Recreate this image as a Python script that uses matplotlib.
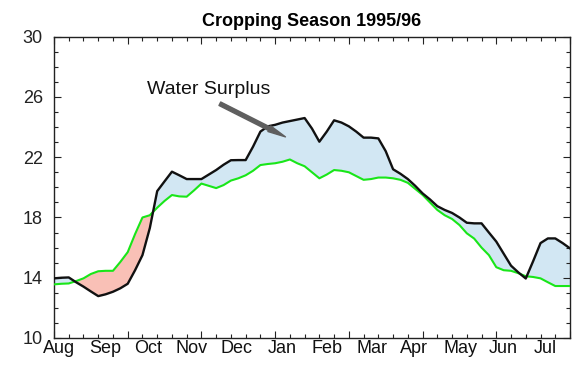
import numpy as np
import matplotlib
matplotlib.use("Agg")
import matplotlib.pyplot as plt
import matplotlib.ticker as ticker

plt.rcParams["font.family"] = ["Liberation Sans", "DejaVu Sans"]

# -----------------------------------------------------------------------
# Data: half-dekad steps from the start of August (x in dekads)
# -----------------------------------------------------------------------

dekad = np.arange(0, 35.5, 0.5)

supply = [
    13.96, 14.00, 14.02, 13.70, 13.41, 13.09, 12.78, 12.90, 13.07, 13.30,
    13.60, 14.50, 15.50, 17.30, 19.75, 20.40, 21.04, 20.80, 20.55, 20.55,
    20.55, 20.85, 21.15, 21.50, 21.80, 21.81, 21.81, 22.70, 23.70, 24.05,
    24.15, 24.30, 24.40, 24.50, 24.60, 23.90, 23.03, 23.70, 24.45, 24.30,
    24.05, 23.70, 23.30, 23.30, 23.25, 22.40, 21.20, 20.90, 20.55, 20.10,
    19.60, 19.20, 18.75, 18.50, 18.30, 18.00, 17.65, 17.61, 17.61, 17.00,
    16.40, 15.60, 14.80, 14.35, 13.95, 15.10, 16.30, 16.61, 16.61, 16.30,
    15.95,
]

demand = [
    13.56, 13.60, 13.62, 13.78, 13.96, 14.25, 14.43, 14.46, 14.46, 15.05,
    15.70, 16.90, 18.00, 18.15, 18.65, 19.10, 19.49, 19.40, 19.38, 19.80,
    20.25, 20.10, 19.95, 20.15, 20.45, 20.60, 20.80, 21.10, 21.48, 21.55,
    21.60, 21.70, 21.85, 21.60, 21.40, 21.00, 20.60, 20.85, 21.15, 21.10,
    21.00, 20.75, 20.50, 20.55, 20.65, 20.65, 20.60, 20.50, 20.30, 19.90,
    19.50, 19.00, 18.50, 18.15, 17.90, 17.50, 16.95, 16.60, 16.00, 15.50,
    14.70, 14.50, 14.46, 14.30, 14.10, 14.05, 13.96, 13.70, 13.45, 13.45,
    13.45,
]

months = ["Aug", "Sep", "Oct", "Nov", "Dec", "Jan",
          "Feb", "Mar", "Apr", "May", "Jun", "Jul"]
month_pos = [0.35, 3.5, 6.4, 9.3, 12.4, 15.5, 18.5, 21.6, 24.4, 27.6, 30.5, 33.3]
y_ticks = [10, 14, 18, 22, 26, 30]

supply = np.array(supply)
demand = np.array(demand)

# -----------------------------------------------------------------------
# Figure
# -----------------------------------------------------------------------

fig = plt.figure(figsize=(5.76, 3.67), dpi=100)
ax = fig.add_axes([54 / 576, 1 - 338 / 367, 516 / 576, (338 - 36.7) / 367])

ax.fill_between(dekad, supply, demand, where=supply >= demand,
                interpolate=True, color="#d2e7f3", linewidth=0)
ax.fill_between(dekad, supply, demand, where=supply < demand,
                interpolate=True, color="#f9c0b6", linewidth=0)
ax.plot(dekad, demand, color="#19e619", linewidth=1.5, zorder=3)
ax.plot(dekad, supply, color="#111111", linewidth=1.7, zorder=4)

ax.set_xlim(0, 35)
ax.set_ylim(10, 30)

ax.xaxis.set_major_locator(ticker.MultipleLocator(5))
ax.xaxis.set_minor_locator(ticker.MultipleLocator(1))
ax.set_yticks(y_ticks)
ax.yaxis.set_minor_locator(ticker.MultipleLocator(1))
ax.set_xticklabels([])
ax.tick_params(which="both", direction="in", top=True, right=True,
               color="#222222", width=0.8)
ax.tick_params(which="major", length=5)
ax.tick_params(which="minor", length=3)
ax.tick_params(axis="y", labelsize=13, pad=8, colors="#222222")
for s in ax.spines.values():
    s.set_color("#222222")
    s.set_linewidth(1.0)

for m, p in zip(months, month_pos):
    ax.text(p, -0.008, m, transform=ax.get_xaxis_transform(),
            ha="center", va="top", fontsize=13, color="#111111")

ax.set_title("Cropping Season 1995/96", fontsize=13, fontweight="bold", pad=8)

ax.text(10.5, 26.5, "Water Surplus", ha="center", va="center", fontsize=14,
        color="#111111")
ax.annotate("", xy=(15.7, 23.35), xytext=(11.25, 25.55),
            arrowprops=dict(arrowstyle="simple,head_length=1.3,head_width=0.45,tail_width=0.28",
                            color="#5f5f5f", shrinkA=0, shrinkB=0),
            zorder=5)

plt.savefig("out.png", dpi=100)
plt.close()
